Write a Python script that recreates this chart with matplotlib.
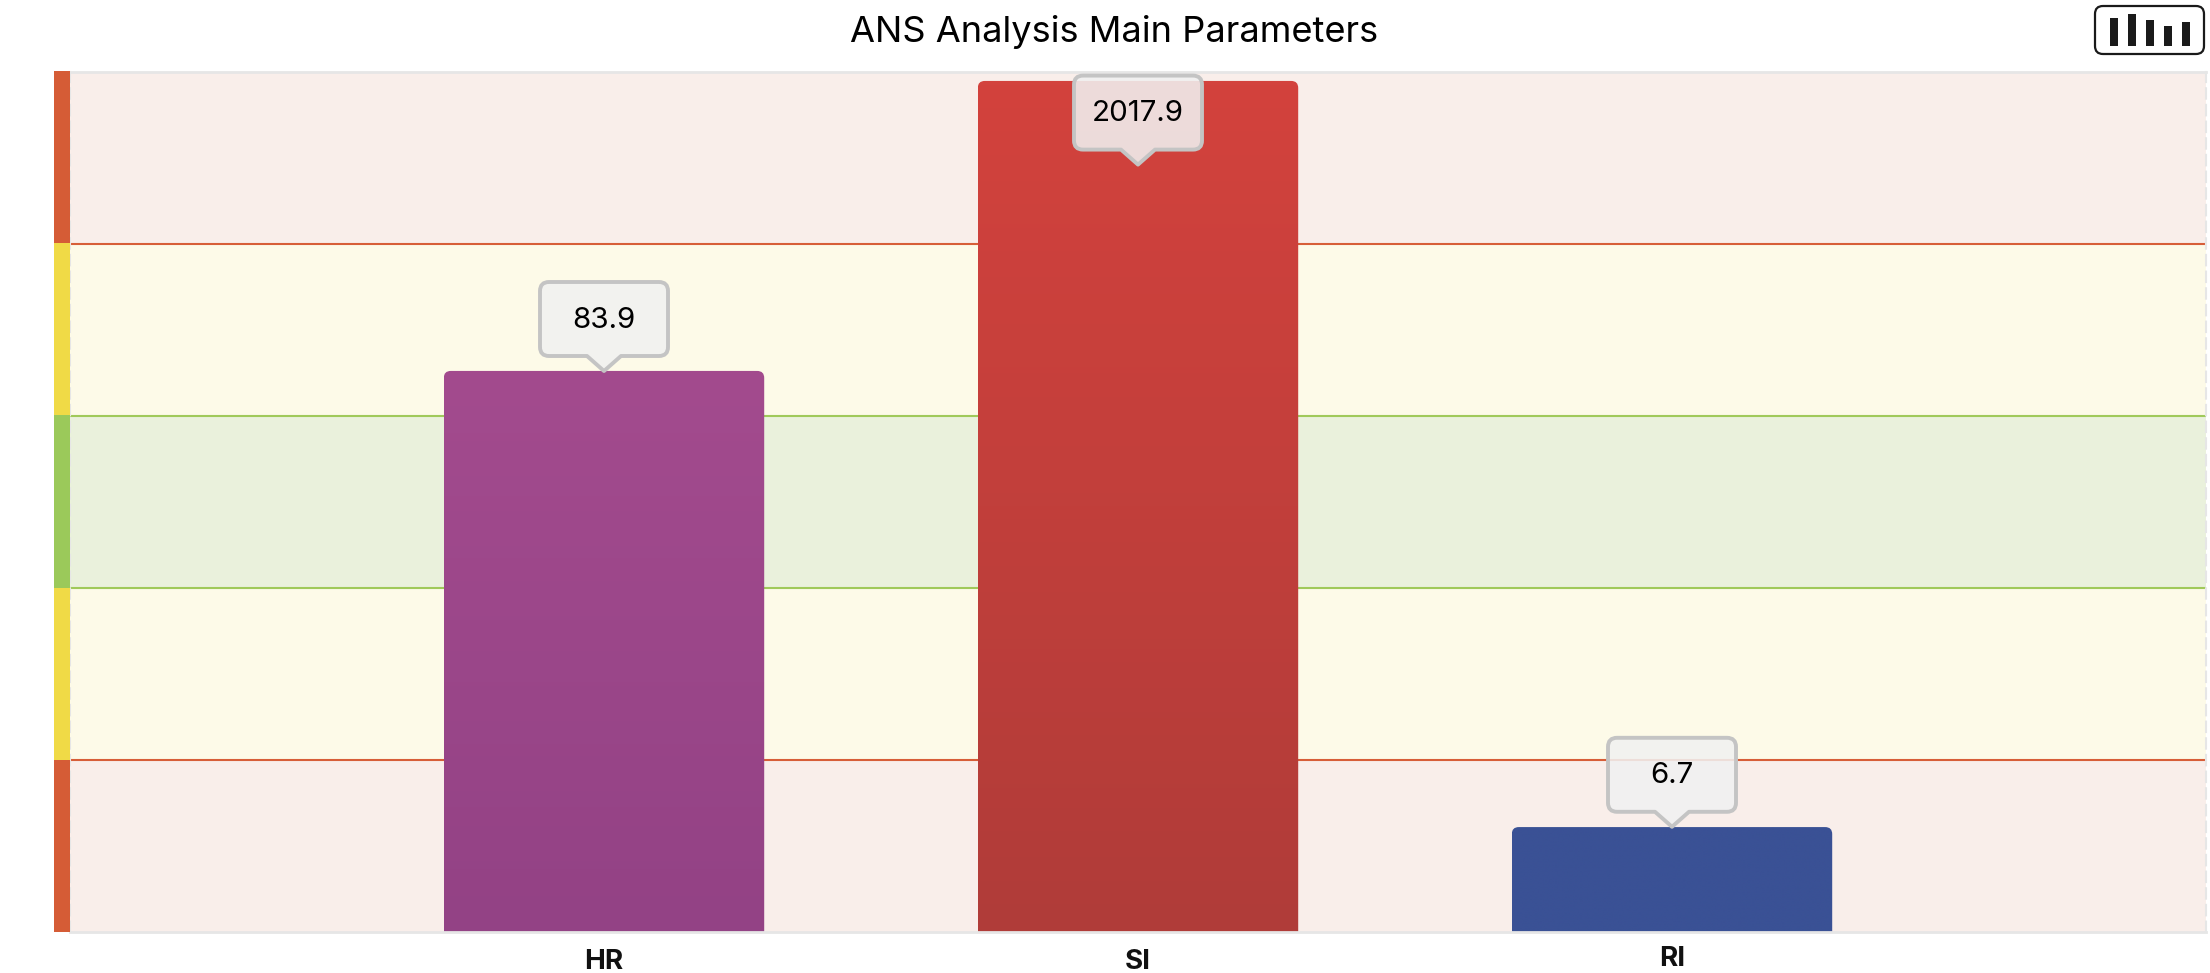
import numpy as np
import matplotlib
matplotlib.use("Agg")
import matplotlib.pyplot as plt
from matplotlib.path import Path
from matplotlib.patches import PathPatch, FancyBboxPatch
from matplotlib.transforms import IdentityTransform
from matplotlib.colors import LinearSegmentedColormap

plt.rcParams["font.family"] = ["Inter", "Liberation Sans", "DejaVu Sans"]

W, H = 2210, 973
DPI = 100

# data
categories = ["HR", "SI", "RI"]
bar_levels = [3.262, 4.948, 0.61]         # height on the 5 band scale
bar_labels = ["83.9", "2017.9", "6.7"]
tip_levels = [3.25, 4.45, 0.60]           # where the callout points
bar_top_colors = ["#a34b8e", "#d3423d", "#3a5195"]
bar_bottom_colors = ["#934285", "#b03c39", "#3a5195"]

band_fill = ["#f9eeea", "#fdfae8", "#eaf1dc", "#fdfae8", "#f9eeea"]
band_strip = ["#d55c36", "#f0da46", "#9bc95a", "#f0da46", "#d55c36"]
band_lines = {1: "#d75e38", 2: "#a0c95a", 3: "#a0c95a", 4: "#d75e38"}

icon_heights = [28, 32, 26, 20, 24]


def px_axes(x0, y0, x1, y1):
    # pixel box, y counted from the top of the image
    return [x0 / W, (H - y1) / H, (x1 - x0) / W, (y1 - y0) / H]


def callout_path(x, y):
    # balloon with a pointer, tip at (x, y) in display pixels (y up)
    hw, r, base, th, ph = 64, 9, 17, 74, 15
    b = y + ph
    t = b + th
    l, R = x - hw, x + hw
    verts = [
        (x, y), (x + base, b), (R - r, b), (R, b), (R, b + r), (R, t - r), (R, t),
        (R - r, t), (l + r, t), (l, t), (l, t - r), (l, b + r), (l, b), (l + r, b),
        (x - base, b), (x, y),
    ]
    codes = [
        Path.MOVETO, Path.LINETO, Path.LINETO, Path.CURVE3, Path.CURVE3, Path.LINETO,
        Path.CURVE3, Path.CURVE3, Path.LINETO, Path.CURVE3, Path.CURVE3, Path.LINETO,
        Path.CURVE3, Path.CURVE3, Path.LINETO, Path.CLOSEPOLY,
    ]
    return Path(verts, codes), (b + t) / 2


def bar_path(x0, x1, top, rx, ry):
    # bar with rounded top corners only
    verts = [
        (x0, 0), (x0, top - ry), (x0, top), (x0 + rx, top), (x1 - rx, top),
        (x1, top), (x1, top - ry), (x1, 0), (x0, 0),
    ]
    codes = [
        Path.MOVETO, Path.LINETO, Path.CURVE3, Path.CURVE3, Path.LINETO,
        Path.CURVE3, Path.CURVE3, Path.LINETO, Path.CLOSEPOLY,
    ]
    return Path(verts, codes)


fig = plt.figure(figsize=(W / DPI, H / DPI), dpi=DPI)
ax = fig.add_axes(px_axes(70, 72, 2206, 932))
ax.set_xlim(0, 4)
ax.set_ylim(0, 5)

# background bands
for i, c in enumerate(band_fill):
    ax.axhspan(i, i + 1, color=c, lw=0, zorder=0)
for y, c in band_lines.items():
    ax.axhline(y, color=c, lw=1.5, zorder=1)

# bars with vertical gradient
xpos = np.arange(1, len(categories) + 1)
bar_w = 0.6
rx, ry = 7 / 534, 7 / 172.0
grad = np.linspace(0, 1, 256)[:, None]
for x, v, ct, cb in zip(xpos, bar_levels, bar_top_colors, bar_bottom_colors):
    cmap = LinearSegmentedColormap.from_list("g", [cb, ct])
    im = ax.imshow(grad, origin="lower", cmap=cmap, aspect="auto", zorder=2,
                   extent=(x - bar_w / 2, x + bar_w / 2, 0, v), interpolation="bilinear")
    clip = PathPatch(bar_path(x - bar_w / 2, x + bar_w / 2, v, rx, ry),
                     transform=ax.transData, fc="none", ec="none")
    ax.add_patch(clip)
    im.set_clip_path(clip)
ax.set_xlim(0, 4)
ax.set_ylim(0, 5)

# frame
for s in ["top", "bottom"]:
    ax.spines[s].set_color("#e6e6e6")
    ax.spines[s].set_linewidth(2)
for s in ["left", "right"]:
    ax.spines[s].set_color("#e6e6e6")
    ax.spines[s].set_linewidth(1.5)
    ax.spines[s].set_linestyle((0, (5, 3)))

ax.set_yticks([])
ax.set_xticks(xpos, categories, fontsize=20, fontweight="bold", color="#111111")
ax.tick_params(axis="x", length=0, pad=12)
ax.xaxis.get_major_ticks()[2].set_pad(10)

# callouts
fig.canvas.draw()
for x, tip, txt in zip(xpos, tip_levels, bar_labels):
    px, py = ax.transData.transform((x, tip))
    path, cy = callout_path(px, py + 2)
    fig.add_artist(PathPatch(path, transform=IdentityTransform(), fc=(0.945, 0.945, 0.945, 0.88),
                             ec="#c4c4c4", lw=2.8, joinstyle="round", zorder=5))
    fig.text(px / W, (cy - 1) / H, txt, ha="center", va="center", fontsize=21.3,
             color="black", zorder=6)

# title
fig.text(1114 / W, 1 - 32 / H, "ANS Analysis Main Parameters", ha="center", va="center",
         fontsize=26.1, color="black")

# band strip on the left
strip = fig.add_axes(px_axes(54, 71, 70, 932))
strip.barh([0.5, 1.5, 2.5, 3.5, 4.5], [1] * 5, height=1, color=band_strip, lw=0)
strip.set_xlim(0, 1)
strip.set_ylim(0, 5)
strip.axis("off")

# chart type button
btn = fig.add_axes(px_axes(2094, 5, 2205, 55))
btn.set_xlim(0, 111)
btn.set_ylim(0, 50)
btn.axis("off")
btn.add_patch(FancyBboxPatch((1, 1), 109, 48, boxstyle="round,pad=0,rounding_size=8",
                             fc="white", ec="#1a1a1a", lw=1.6, clip_on=False))
btn.bar(np.arange(5) * 18 + 20, icon_heights, width=8, bottom=9, color="#1a1a1a")

fig.savefig("out.png", dpi=DPI)
plt.close(fig)
